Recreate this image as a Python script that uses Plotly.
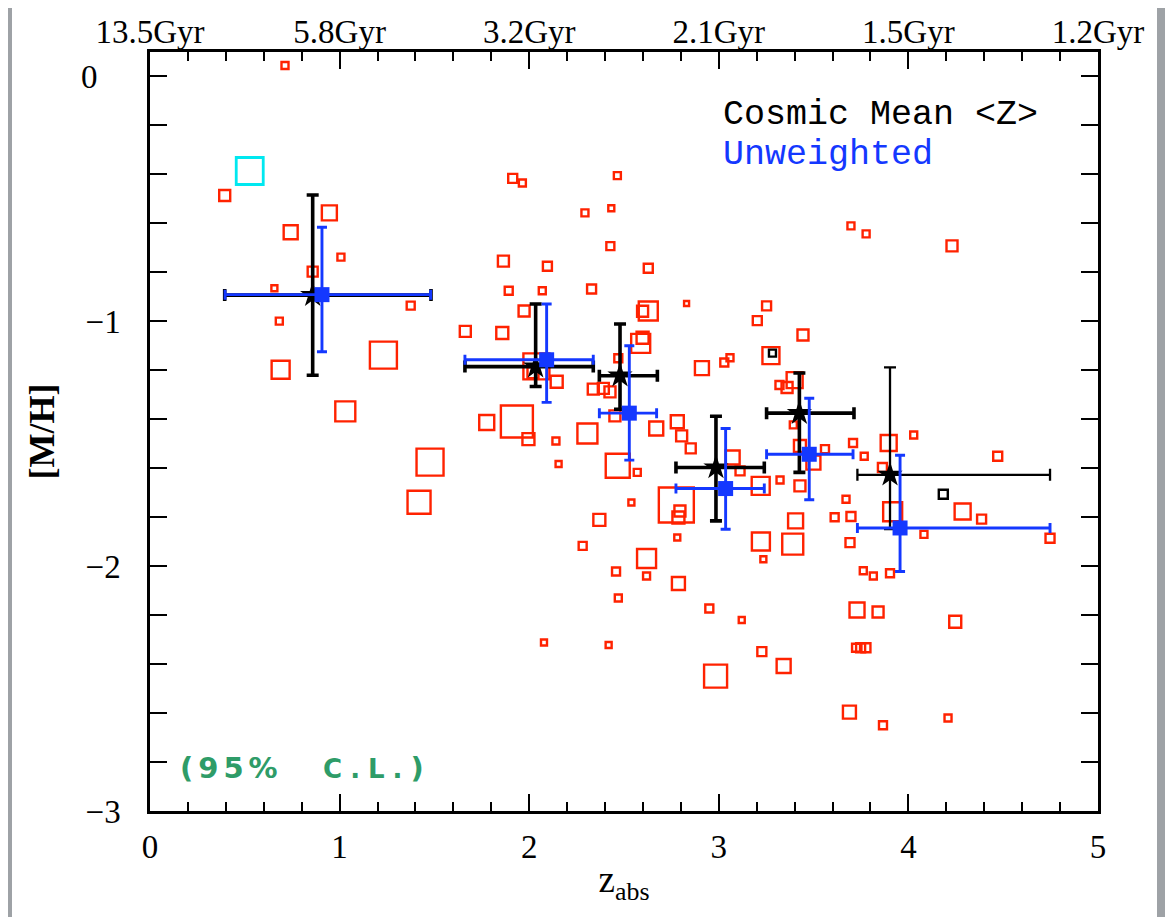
import plotly.graph_objects as go

# ---------------- data ----------------
red_x = [0.712, 0.394, 0.946, 0.742, 1.007, 0.858, 0.656, 1.375, 0.682, 0.689, 1.231, 1.030, 1.477, 1.419,
         1.913, 1.964, 1.864, 1.892, 1.973, 1.663, 1.858, 1.776, 1.935, 2.465, 2.294, 2.433, 2.428, 2.096,
         2.628, 2.069, 2.329, 2.830, 3.252, 3.203, 2.628, 2.598, 3.444, 2.598, 2.588, 2.470, 3.275, 2.911,
         3.029, 3.059, 2.038, 2.020, 2.145, 2.338, 2.391, 2.426, 3.320, 3.360, 3.400, 1.996, 2.141, 2.307,
         2.452, 2.670, 2.781, 2.804, 2.852, 2.155, 2.467, 2.570, 3.073, 3.112, 3.221, 3.323, 3.428, 3.393,
         3.428, 3.499, 3.560, 2.776, 2.787, 2.795, 2.781, 3.708, 3.767, 3.896, 4.028, 3.863, 4.471, 3.671,
         3.697, 3.611, 3.692, 3.917, 4.286, 4.386, 4.082, 4.747, 3.405, 3.222, 3.390, 3.235, 2.787, 2.950,
         3.121, 3.762, 3.815, 3.903, 3.729, 3.840, 4.247, 2.539, 2.370, 2.282, 2.619, 2.458, 2.619, 2.470,
         2.078, 2.419, 3.227, 3.342, 2.983, 3.724, 3.748, 3.776, 3.689, 3.866, 4.209, 4.230, 3.697, 3.777]
red_y = [0.045, -0.486, -0.557, -0.636, -0.738, -0.797, -0.865, -0.936, -0.999, -1.198, -1.138, -1.368, -1.575, -1.739,
         -0.416, -0.435, -0.754, -0.875, -0.958, -1.041, -1.048, -1.413, -1.409, -0.405, -0.557, -0.538, -0.693, -0.775,
         -0.783, -0.875, -0.868, -0.927, -0.937, -0.997, -0.958, -0.959, -1.056, -1.067, -1.090, -1.151, -1.140, -1.191,
         -1.168, -1.149, -1.184, -1.210, -1.247, -1.277, -1.274, -1.288, -1.260, -1.270, -1.240, -1.481, -1.489, -1.458,
         -1.386, -1.438, -1.410, -1.468, -1.519, -1.583, -1.590, -1.617, -1.556, -1.611, -1.672, -1.648, -1.672, -1.423,
         -1.509, -1.577, -1.522, -1.750, -1.801, -1.775, -1.883, -1.497, -1.551, -1.497, -1.464, -1.597, -1.551, -1.727,
         -1.797, -1.800, -1.904, -1.778, -1.777, -1.808, -1.870, -1.886, -1.815, -1.899, -1.910, -1.972, -2.071, -2.173,
         -2.220, -2.019, -2.040, -2.029, -2.179, -2.187, -2.227, -1.740, -1.811, -1.917, -1.969, -2.022, -2.040, -2.130,
         -2.312, -2.322, -2.349, -2.408, -2.449, -2.333, -2.333, -2.333, -2.596, -2.650, -2.620, -0.692, -0.610, -0.643]
red_size = [8, 12, 16, 15, 8, 11, 7, 9, 8, 19, 28, 21, 28, 24,
            10, 8, 12, 9, 12, 12, 13, 16, 33, 8, 8, 7, 9, 10,
            10, 8, 10, 6, 10, 10, 20, 12, 12, 13, 20, 9, 18, 15,
            9, 8, 27, 12, 13, 12, 12, 12, 9, 12, 17, 13, 8, 21,
            12, 15, 14, 12, 11, 7, 25, 8, 15, 10, 19, 8, 12, 8,
            13, 15, 9, 36, 13, 12, 7, 9, 8, 17, 8, 10, 10, 8,
            10, 9, 10, 20, 17, 10, 8, 10, 16, 19, 22, 7, 14, 9,
            7, 8, 8, 9, 16, 12, 13, 7, 13, 9, 20, 9, 8, 8,
            7, 7, 10, 15, 24, 9, 10, 10, 14, 9, 8, 12, 8, 8]

cyan_x = [0.526]
cyan_y = [-0.386]
cyan_size = [28]

blk_sq_x = [3.283, 4.184]
blk_sq_y = [-1.130, -1.706]
blk_sq_size = [8, 10]

# Cosmic mean <Z> (black stars)
mean_x = [0.858, 2.034, 2.479, 2.985, 3.425, 3.903]
mean_y = [-0.893, -1.185, -1.222, -1.597, -1.375, -1.627]
mean_xlo = [0.394, 1.661, 2.370, 2.774, 3.252, 3.731]
mean_xhi = [1.482, 2.338, 2.676, 3.240, 3.713, 4.747]
mean_ylo = [-1.220, -1.266, -1.359, -1.815, -1.617, -1.849]
mean_yhi = [-0.484, -0.929, -1.011, -1.388, -1.211, -1.188]

# Unweighted (blue squares)
unw_x = [0.907, 2.092, 2.528, 3.036, 3.477, 3.956]
unw_y = [-0.891, -1.157, -1.375, -1.683, -1.543, -1.844]
unw_xlo = [0.396, 1.661, 2.370, 2.774, 3.252, 3.731]
unw_xhi = [1.480, 2.338, 2.672, 3.240, 3.708, 4.747]
unw_ylo = [-1.124, -1.331, -1.567, -1.849, -1.729, -2.022]
unw_yhi = [-0.616, -0.929, -1.100, -1.438, -1.314, -1.547]

z_ticks = [0, 1, 2, 3, 4, 5]
age_labels = ["13.5Gyr", "5.8Gyr", "3.2Gyr", "2.1Gyr", "1.5Gyr", "1.2Gyr"]
y_ticks = [0, -1, -2, -3]
y_labels = ["0\u2007\u2009", "\u22121", "\u22122", "\u22123"]

# ---------------- figure ----------------
RED = "#ff2200"
BLUE = "#1438ff"
TICKFONT = dict(family="Liberation Serif", size=33, color="black")

fig = go.Figure()

fig.add_trace(go.Scatter(
    x=red_x, y=red_y, mode="markers",
    marker=dict(symbol="square-open", size=[s - 1 for s in red_size], color=RED, opacity=1,
                line=dict(width=2.4, color=RED)),
    showlegend=False, hoverinfo="skip"))
fig.add_trace(go.Scatter(
    x=cyan_x, y=cyan_y, mode="markers",
    marker=dict(symbol="square-open", size=[s - 1 for s in cyan_size], color="#00e8f0", opacity=1,
                line=dict(width=2.8, color="#00e8f0")),
    showlegend=False, hoverinfo="skip"))
fig.add_trace(go.Scatter(
    x=blk_sq_x, y=blk_sq_y, mode="markers",
    marker=dict(symbol="square-open", size=[s - 1 for s in blk_sq_size], color="black", opacity=1,
                line=dict(width=2.4, color="black")),
    showlegend=False, hoverinfo="skip"))


def add_err(xs, ys, xlo, xhi, ylo, yhi, color, thick, cap, symbol, msize):
    fig.add_trace(go.Scatter(
        x=xs, y=ys, mode="markers",
        marker=dict(symbol=symbol, size=msize, color=color, line=dict(width=0)),
        error_x=dict(type="data", symmetric=False,
                     array=[h - c for h, c in zip(xhi, xs)],
                     arrayminus=[c - l for l, c in zip(xlo, xs)],
                     color=color, thickness=thick, width=cap),
        error_y=dict(type="data", symmetric=False,
                     array=[h - c for h, c in zip(yhi, ys)],
                     arrayminus=[c - l for l, c in zip(ylo, ys)],
                     color=color, thickness=thick, width=cap),
        showlegend=False, hoverinfo="skip"))


add_err(mean_x[:5], mean_y[:5], mean_xlo[:5], mean_xhi[:5], mean_ylo[:5], mean_yhi[:5],
        "black", 3.6, 6, "star", 19)
add_err(mean_x[5:], mean_y[5:], mean_xlo[5:], mean_xhi[5:], mean_ylo[5:], mean_yhi[5:],
        "black", 2.3, 6, "star", 19)
add_err(unw_x, unw_y, unw_xlo, unw_xhi, unw_ylo, unw_yhi, BLUE, 2.9, 5, "square", 15)

# invisible trace to activate the top axis
fig.add_trace(go.Scatter(x=[0, 5], y=[-3, -3], xaxis="x2", mode="markers",
                         marker=dict(opacity=0), showlegend=False, hoverinfo="skip"))

W, H = 1173, 917
OFF = 8                      # page offset of the plot div
PL, PR, PT, PB = 150, 1098, 52, 811   # plot frame in page pixels
pw, ph = PR - PL, PB - PT
L, T = PL - OFF, PT - OFF
R, B = W - L - pw, H - T - ph


def px(sx):
    return (sx - PL) / pw


def py(sy):
    return (PB - sy) / ph


# white panel
fig.add_shape(type="rect", xref="paper", yref="paper", layer="below",
              x0=px(12), x1=px(1157), y0=py(930), y1=py(6),
              fillcolor="white", line=dict(width=0))

fig.add_annotation(x=px(721), y=py(115), xref="paper", yref="paper",
                   text="Cosmic Mean &lt;Z&gt;", showarrow=False, xanchor="left", yanchor="middle",
                   font=dict(family="Liberation Mono", size=35, color="black"))
fig.add_annotation(x=px(721), y=py(155), xref="paper", yref="paper",
                   text="Unweighted", showarrow=False, xanchor="left", yanchor="middle",
                   font=dict(family="Liberation Mono", size=35, color=BLUE))
fig.add_annotation(x=px(178), y=py(768), xref="paper", yref="paper",
                   text=("<span style='letter-spacing:5px'>(95%</span>&nbsp;&nbsp;&nbsp;&nbsp;"
                         "<span style='font-size:26px;letter-spacing:8px'>C.L.</span>)"),
                   showarrow=False, xanchor="left", yanchor="middle",
                   font=dict(family="DejaVu Sans", size=29, color="#2e9c68", weight="bold"))

axis_common = dict(showline=True, linecolor="black", linewidth=2.5, ticks="inside",
                   tickcolor="black", tickwidth=2, ticklen=17, showgrid=False, zeroline=False,
                   tickfont=TICKFONT, automargin=False,
                   minor=dict(ticks="inside", ticklen=9, tickwidth=2, tickcolor="black", dtick=0.2,
                              showgrid=False))

fig.update_layout(
    width=W, height=H,
    margin=dict(l=L, r=R, t=T, b=B),
    paper_bgcolor="#9ea2a6", plot_bgcolor="white",
    xaxis=dict(range=[0, 5], tickvals=z_ticks, ticklabelstandoff=5,
               title=dict(text="z<sub>abs</sub>", font=dict(family="Liberation Serif", size=37, color="black"),
                          standoff=2),
               **axis_common),
    xaxis2=dict(range=[0, 5], overlaying="x", side="top", anchor="y", tickvals=z_ticks, ticktext=age_labels,
                ticklabelstandoff=-7, **axis_common),
    yaxis=dict(range=[-3, 0.1], tickvals=y_ticks, ticktext=y_labels, mirror="allticks", ticklabelstandoff=20,
               title=dict(text="<b>[M/H]</b>", font=dict(family="Liberation Serif", size=36, color="black"),
                          standoff=16),
               **axis_common),
)

fig.write_html("out.html")
